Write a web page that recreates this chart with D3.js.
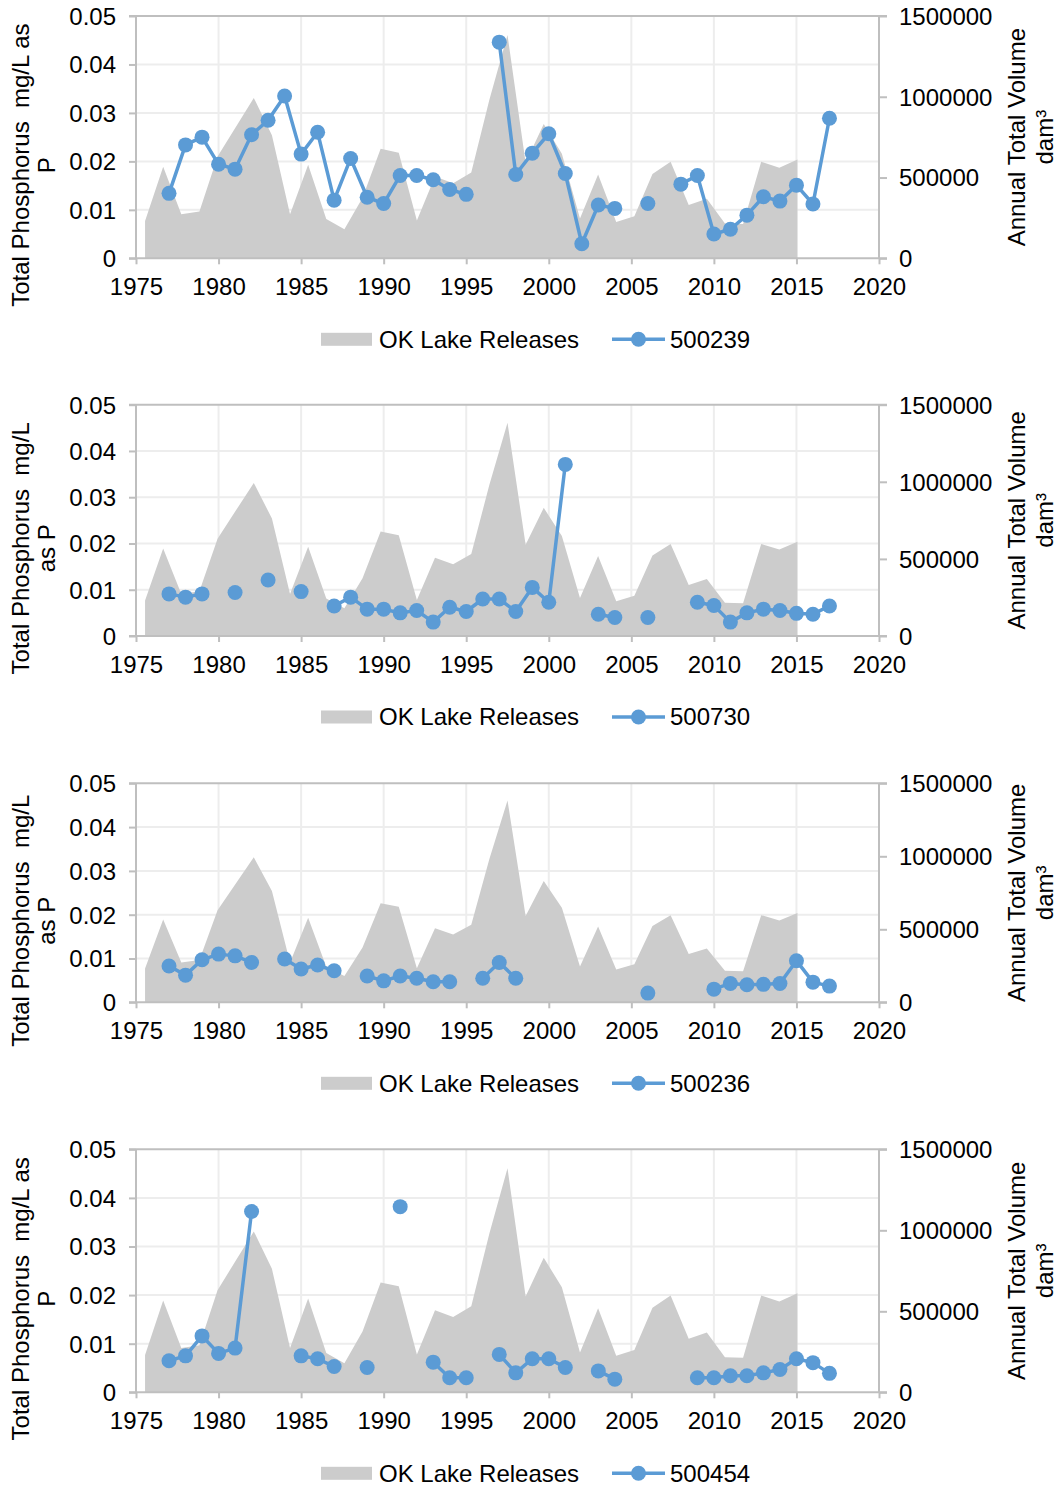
<!DOCTYPE html>
<html>
<head>
<meta charset="utf-8">
<script src="https://cdn.jsdelivr.net/npm/d3@7"></script>
<style>
  html, body { margin: 0; padding: 0; background: #fff; }
  svg { display: block; font-family: "Liberation Sans", Arial, sans-serif; }
  text { white-space: pre; }
</style>
</head>
<body>
<svg id="chart" width="1057" height="1486"></svg>
<script>
// ---------------- DATA ----------------
// OK Lake Releases (annual total volume, dam³), plotted on a 41-slot category axis
const releaseSlots = 41;
const releaseValues = [231000, 567000, 273000, 290000, 630000, 812000, 993000, 762000, 273000, 579000,
  243000, 180000, 375000, 678000, 654000, 234000, 507000, 465000, 531000, 981000,
  1383000, 591000, 831000, 648000, 246000, 519000, 225000, 261000, 522000, 597000,
  330000, 369000, 216000, 213000, 597000, 561000, 612000];

// Station sampling years
const years = [1977, 1978, 1979, 1980, 1981, 1982, 1983, 1984, 1985, 1986,
  1987, 1988, 1989, 1990, 1991, 1992, 1993, 1994, 1995, 1996,
  1997, 1998, 1999, 2000, 2001, 2002, 2003, 2004, 2005, 2006,
  2007, 2008, 2009, 2010, 2011, 2012, 2013, 2014, 2015, 2016, 2017];

// Total phosphorus (mg/L as P) per station, null = no sample
const tp500239 = [0.0134, 0.0234, 0.0250, 0.0194, 0.0184, 0.0255, 0.0285, 0.0335, 0.0215, 0.0260,
  0.0120, 0.0206, 0.0126, 0.0113, 0.0171, 0.0171, 0.0162, 0.0142, 0.0132, null,
  0.0446, 0.0173, 0.0217, 0.0257, 0.0175, 0.0030, 0.0110, 0.0103, null, 0.0113,
  null, 0.0153, 0.0171, 0.0050, 0.0060, 0.0089, 0.0127, 0.0118, 0.0151, 0.0112, 0.0289];
const tp500730 = [0.0091, 0.0084, 0.0091, null, 0.0094, null, 0.0121, null, 0.0096, null,
  0.0065, 0.0084, 0.0058, 0.0058, 0.0050, 0.0055, 0.0030, 0.0062, 0.0053, 0.0080,
  0.0080, 0.0053, 0.0105, 0.0073, 0.0371, null, 0.0047, 0.0040, null, 0.0040,
  null, null, 0.0073, 0.0066, 0.0030, 0.0050, 0.0058, 0.0055, 0.0049, 0.0047, 0.0065];
const tp500236 = [0.0083, 0.0062, 0.0097, 0.0110, 0.0106, 0.0091, null, 0.0099, 0.0076, 0.0085,
  0.0072, null, 0.0060, 0.0049, 0.0060, 0.0055, 0.0047, 0.0047, null, 0.0055,
  0.0091, 0.0055, null, null, null, null, null, null, null, 0.0021,
  null, null, null, 0.0030, 0.0043, 0.0040, 0.0041, 0.0043, 0.0095, 0.0046, 0.0037];
const tp500454 = [0.0065, 0.0075, 0.0116, 0.0080, 0.0091, 0.0372, null, null, 0.0075, 0.0069,
  0.0053, null, 0.0051, null, 0.0382, null, 0.0062, 0.0030, 0.0030, null,
  0.0078, 0.0040, 0.0069, 0.0069, 0.0051, null, 0.0044, 0.0027, null, null,
  null, null, 0.0030, 0.0030, 0.0034, 0.0034, 0.0040, 0.0047, 0.0069, 0.0061, 0.0039];

const stationNames = ["500239", "500730", "500236", "500454"];
const stationSeries = [tp500239, tp500730, tp500236, tp500454];
const releaseLabel = "OK Lake Releases";
const leftTitles = [
  ["Total Phosphorus  mg/L as", "P"],
  ["Total Phosphorus  mg/L", "as P"],
  ["Total Phosphorus  mg/L", "as P"],
  ["Total Phosphorus  mg/L as", "P"]
];
const rightTitle = ["Annual Total Volume", "dam³"];
const xTicks = [1975, 1980, 1985, 1990, 1995, 2000, 2005, 2010, 2015, 2020];
const leftTicks = [0, 0.01, 0.02, 0.03, 0.04, 0.05];
const rightTicks = [0, 500000, 1000000, 1500000];

// ---------------- LAYOUT ----------------
const svg = d3.select("#chart");
const plotLeft = 136, plotRight = 879;
const panelBox = [[16, 258.3], [404.7, 636], [783.3, 1002.3], [1149.3, 1392.3]];
const FS = 24;
const axisColor = "#bfbfbf", gridColor = "#ededed", areaColor = "#cccccc", blue = "#5b9bd5";

const x = d3.scaleLinear().domain([1975, 2020]).range([plotLeft, plotRight]);
const band = d3.scaleBand().domain(d3.range(releaseSlots)).range([plotLeft, plotRight]);

stationSeries.forEach((series, p) => {
  const [top, bottom] = panelBox[p];
  const yL = d3.scaleLinear().domain([0, 0.05]).range([bottom, top]);
  const yR = d3.scaleLinear().domain([0, 1500000]).range([bottom, top]);
  const g = svg.append("g");

  // gridlines
  g.selectAll(".hg").data(leftTicks.slice(1, -1)).enter().append("line")
    .attr("x1", plotLeft).attr("x2", plotRight)
    .attr("y1", d => yL(d)).attr("y2", d => yL(d))
    .attr("stroke", gridColor).attr("stroke-width", 2);
  g.selectAll(".vg").data(xTicks.slice(1, -1)).enter().append("line")
    .attr("x1", d => x(d)).attr("x2", d => x(d))
    .attr("y1", top).attr("y2", bottom)
    .attr("stroke", gridColor).attr("stroke-width", 2);

  // area
  const area = d3.area()
    .x((d, i) => band(i) + band.bandwidth() / 2)
    .y0(bottom)
    .y1(d => yR(d));
  g.append("path").datum(releaseValues).attr("d", area).attr("fill", areaColor);

  // axes
  const axL = g.append("g").attr("transform", `translate(${plotLeft},0)`)
    .call(d3.axisLeft(yL).tickValues(leftTicks).tickSize(7).tickFormat(d => d === 0 ? "0" : d3.format(".2f")(d)));
  const axR = g.append("g").attr("transform", `translate(${plotRight},0)`)
    .call(d3.axisRight(yR).tickValues(rightTicks).tickSize(8).tickFormat(d3.format("d")));
  const axB = g.append("g").attr("transform", `translate(0,${bottom})`)
    .call(d3.axisBottom(x).tickValues(xTicks).tickSize(6).tickFormat(d3.format("d")));
  [axL, axR, axB].forEach(a => {
    a.select(".domain").remove();
    a.selectAll(".tick line").attr("stroke", axisColor).attr("stroke-width", 2);
    a.selectAll(".tick text").attr("fill", "#000").attr("font-size", FS)
      .attr("font-family", "'Liberation Sans', Arial, sans-serif");
  });
  axL.selectAll(".tick text").attr("x", -20).attr("dy", "0.35em");
  axR.selectAll(".tick text").attr("x", 20).attr("dy", "0.35em");
  axB.selectAll(".tick text").attr("y", 20).attr("dy", "0.71em");
  // axis lines / frame
  g.append("line").attr("x1", plotLeft).attr("x2", plotLeft).attr("y1", top).attr("y2", bottom)
    .attr("stroke", axisColor).attr("stroke-width", 2);
  g.append("line").attr("x1", plotRight).attr("x2", plotRight).attr("y1", top).attr("y2", bottom)
    .attr("stroke", axisColor).attr("stroke-width", 2);
  g.append("line").attr("x1", plotLeft - 7).attr("x2", plotRight + 8).attr("y1", bottom).attr("y2", bottom)
    .attr("stroke", axisColor).attr("stroke-width", 2);
  g.append("line").attr("x1", plotLeft - 7).attr("x2", plotRight + 8).attr("y1", top).attr("y2", top)
    .attr("stroke", axisColor).attr("stroke-width", 2);

  // station line & points
  const pts = years.map((yr, i) => ({ yr, v: series[i] }));
  const line = d3.line().defined(d => d.v !== null).x(d => x(d.yr)).y(d => yL(d.v));
  g.append("path").datum(pts).attr("d", line).attr("fill", "none")
    .attr("stroke", blue).attr("stroke-width", 3.5).attr("stroke-linejoin", "round");
  g.selectAll(".pt").data(pts.filter(d => d.v !== null)).enter().append("circle")
    .attr("cx", d => x(d.yr)).attr("cy", d => yL(d.v)).attr("r", 7.5).attr("fill", blue);

  // left title
  const lcy = (top + bottom) / 2 + 28;
  const lt = g.append("text").attr("transform", `translate(0,${lcy}) rotate(-90)`)
    .attr("text-anchor", "middle").attr("font-size", FS).attr("fill", "#000");
  lt.append("tspan").attr("x", 0).attr("y", 29).text(leftTitles[p][0]);
  lt.append("tspan").attr("x", 0).attr("y", 55).text(leftTitles[p][1]);
  // right title
  const rcy = (top + bottom) / 2;
  const rt = g.append("text").attr("transform", `translate(0,${rcy}) rotate(-90)`)
    .attr("text-anchor", "middle").attr("font-size", FS).attr("fill", "#000");
  rt.append("tspan").attr("x", 0).attr("y", 1025).text(rightTitle[0]);
  rt.append("tspan").attr("x", 0).attr("y", 1053).text(rightTitle[1]);

  // legend
  const ly = bottom + 81;
  g.append("rect").attr("x", 321).attr("y", ly - 6.5).attr("width", 51).attr("height", 13).attr("fill", areaColor);
  g.append("text").attr("x", 379).attr("y", ly).attr("dy", "0.35em").attr("font-size", FS).text(releaseLabel);
  g.append("line").attr("x1", 612).attr("x2", 665).attr("y1", ly).attr("y2", ly)
    .attr("stroke", blue).attr("stroke-width", 3.5);
  g.append("circle").attr("cx", 638.5).attr("cy", ly).attr("r", 7.5).attr("fill", blue);
  g.append("text").attr("x", 670).attr("y", ly).attr("dy", "0.35em").attr("font-size", FS).text(stationNames[p]);
});
</script>
</body>
</html>
